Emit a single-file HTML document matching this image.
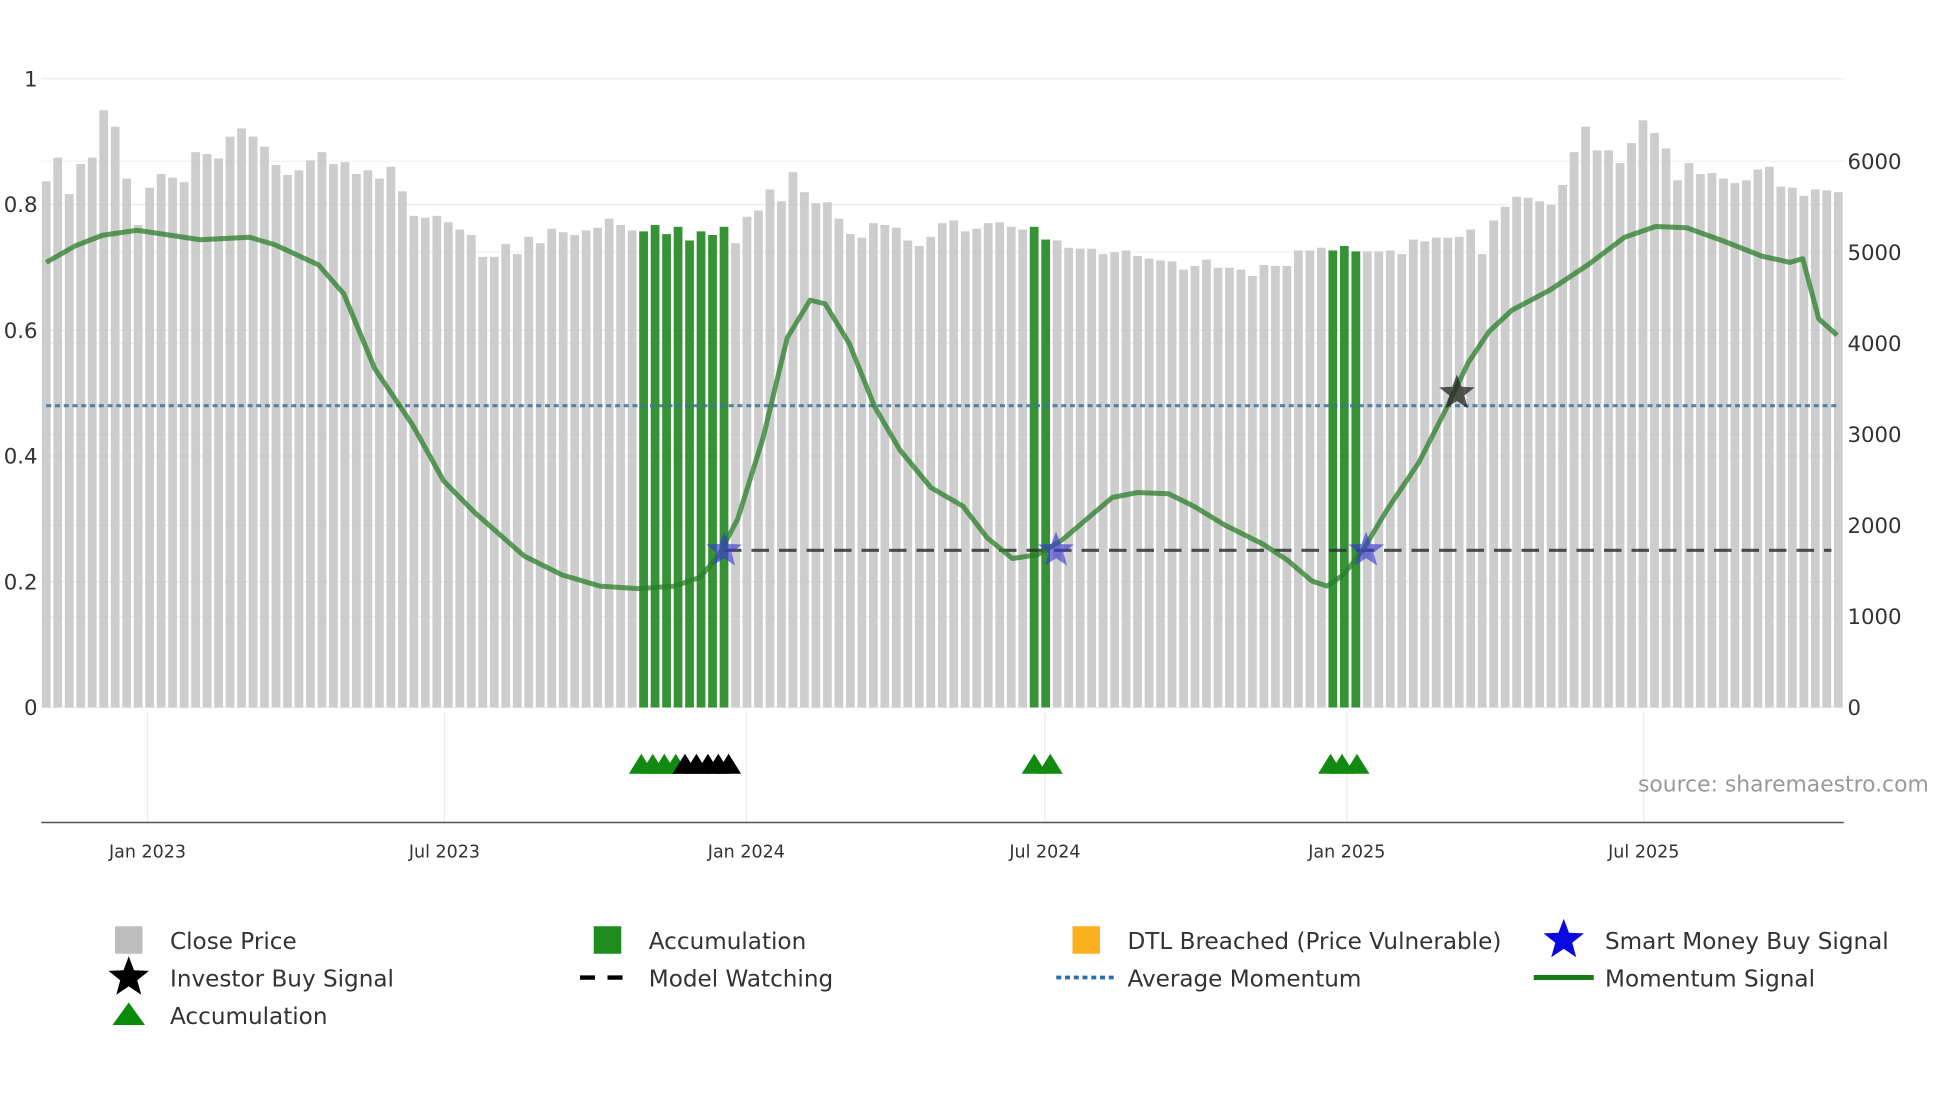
<!DOCTYPE html>
<html><head><meta charset="utf-8"><style>
html,body{margin:0;padding:0;background:#fff;}
svg{display:block;font-family:"DejaVu Sans","Liberation Sans",sans-serif;}
</style></head><body>
<svg id="chart" width="1960" height="1102" viewBox="0 0 1568 881.6" xmlns="http://www.w3.org/2000/svg">
<g id="grid"></g><g id="bars"></g><g id="lines"></g><g id="marks"></g><g id="axes"></g><g id="legend"></g>
</svg>
<script>
const closePrices=[5780,6040,5640,5970,6040,6560,6380,5810,5300,5710,5860,5820,5770,6100,6080,6030,6270,6360,6270,6160,5960,5850,5900,6010,6100,5970,5990,5860,5900,5810,5940,5670,5400,5380,5400,5330,5250,5190,4950,4950,5090,4980,5170,5100,5260,5220,5190,5240,5270,5370,5300,5240,5230,5300,5200,5280,5130,5230,5190,5280,5100,5390,5460,5690,5560,5880,5660,5540,5550,5370,5200,5160,5320,5300,5270,5130,5070,5170,5320,5350,5230,5260,5320,5330,5280,5250,5280,5140,5130,5050,5040,5040,4980,5000,5020,4960,4930,4910,4900,4810,4850,4920,4830,4830,4810,4740,4860,4850,4850,5020,5020,5050,5020,5070,5010,5010,5010,5020,4980,5140,5120,5160,5160,5170,5250,4980,5350,5500,5610,5600,5560,5520,5740,6100,6380,6120,6120,5980,6200,6450,6310,6140,5790,5980,5860,5870,5810,5760,5790,5910,5940,5720,5710,5620,5690,5680,5660];
const accumulationBars=[52,53,54,55,56,57,58,59,86,87,112,113,114];
const momIdx=[0,2.5,4.9,7.9,10.1,13.4,17.7,19.9,23.7,25.9,28.6,31.9,34.6,37.3,41.6,44.9,48.2,51.5,54.7,56.9,58.5,60.2,62.4,64.5,66.5,67.8,69.9,72.1,74.3,77.0,79.8,81.9,84.1,86.3,88.4,90.6,92.8,95.0,97.7,99.9,102.6,105.9,108.0,110.2,111.5,112.9,114.6,116.7,119.5,121.7,123.8,125.6,127.6,130.9,134.2,137.4,140.1,142.8,146.0,149.3,151.8,152.9,154.3,155.9];
const momVal=[0.708,0.734,0.751,0.759,0.753,0.744,0.748,0.736,0.704,0.658,0.539,0.449,0.360,0.310,0.241,0.211,0.193,0.189,0.193,0.207,0.241,0.300,0.429,0.588,0.648,0.642,0.579,0.479,0.410,0.350,0.320,0.270,0.237,0.243,0.266,0.300,0.334,0.342,0.340,0.320,0.290,0.260,0.235,0.201,0.193,0.211,0.250,0.314,0.390,0.469,0.549,0.598,0.632,0.664,0.704,0.748,0.765,0.763,0.742,0.718,0.708,0.714,0.618,0.592];
const avgMomentum=0.48;
const watchLevel=0.25, watchStart=59, watchEnd=155.4;
const smartIdx=[59,87.9,114.9], smartVal=[0.25,0.25,0.25];
const investorIdx=[122.8], investorVal=[0.5];
const triGreen=[51.8,52.8,53.8,54.8,86.0,87.4,111.8,112.8,114.1];
const triBlack=[55.6,56.6,57.6,58.5,59.4];
const leftTicks=[0,0.2,0.4,0.6,0.8,1];
const leftLabels=["0","0.2","0.4","0.6","0.8","1"];
const rightTicks=[0,1000,2000,3000,4000,5000,6000];
const dateTicks=["2023-01-01","2023-07-01","2024-01-01","2024-07-01","2025-01-01","2025-07-01"];
const dateLabels=["Jan 2023","Jul 2023","Jan 2024","Jul 2024","Jan 2025","Jul 2025"];

const NS="http://www.w3.org/2000/svg";
const x0=37, step=9.19;
const xi=i=>x0+i*step;
const day0=Date.UTC(2023,0,1);
const xd=s=>{const p=s.split('-');return 118+(Date.UTC(+p[0],+p[1]-1,+p[2])-day0)/86400000*1.3125;};
const yL=v=>566-v*503;
const yR=v=>566-v*437/6000;
function mk(tag,attrs,parent,text){const e=document.createElementNS(NS,tag);for(const k in attrs)e.setAttribute(k,attrs[k]);if(text!==undefined)e.textContent=text;document.getElementById(parent).appendChild(e);return e;}

leftTicks.forEach(v=>{const l=mk('line',{x1:33,x2:1475,y1:yL(v),y2:yL(v),stroke:'#ececec','stroke-width':1},'grid');

});
rightTicks.forEach(v=>{const l=mk('line',{x1:33,x2:1475,y1:yR(v),y2:yR(v),stroke:'#f2f2f2','stroke-width':1},'grid');

});
dateTicks.forEach(d=>{const l=mk('line',{x1:xd(d),x2:xd(d),y1:570,y2:658,stroke:'#ececec','stroke-width':1},'grid');

});

closePrices.forEach((v,i)=>{const acc=accumulationBars.includes(i);
const r=mk('rect',{x:xi(i)-3.5,y:yR(v),width:7,height:566-yR(v),fill:acc?'#2a8c2a':'#c8c8c8',opacity:acc?0.95:0.9},'bars');

});

const am=mk('line',{x1:37,x2:1472,y1:yL(avgMomentum),y2:yL(avgMomentum),stroke:'#3f73a0','stroke-width':2.5,'stroke-dasharray':'4 3',opacity:0.85},'lines');


const mw=mk('line',{x1:xi(watchStart),x2:xi(watchEnd),y1:yL(watchLevel),y2:yL(watchLevel),stroke:'#333','stroke-width':2.5,'stroke-dasharray':'14 8',opacity:0.85},'lines');


let d='';momIdx.forEach((k,i)=>{d+=(i?'L':'M')+xi(k).toFixed(1)+','+yL(momVal[i]).toFixed(1);});
const ml=mk('path',{d:d,fill:'none',stroke:'#2a7d2a','stroke-width':4,opacity:0.75,'stroke-linejoin':'round'},'lines');



function star(cx,cy,R){let p=[];for(let k=0;k<10;k++){const r=k%2?R*0.42:R;const a=-Math.PI/2+k*Math.PI/5;p.push((cx+r*Math.cos(a)).toFixed(1)+','+(cy+r*Math.sin(a)).toFixed(1));}return p.join(' ');}
smartIdx.forEach((k,i)=>{const s=mk('polygon',{points:star(xi(k),yL(smartVal[i]),15),fill:'#3a3ad0',opacity:0.65},'marks');

});
investorIdx.forEach((k,i)=>{const s=mk('polygon',{points:star(xi(k),yL(investorVal[i]),15),fill:'#222',opacity:0.75},'marks');

});
function tri(cx,cy,c,name){const t=mk('polygon',{points:`${cx-10},${cy+8} ${cx+10},${cy+8} ${cx},${cy-8}`,fill:c},'marks');

}
triGreen.forEach(k=>tri(xi(k),611,'#118a11','accumulation-triangle'));
triBlack.forEach(k=>tri(xi(k),611,'#000','investor-triangle'));

const ax=mk('line',{x1:33,x2:1475,y1:658,y2:658,stroke:'#555','stroke-width':1.2},'axes');


leftTicks.forEach((v,i)=>{const t=mk('text',{x:30,y:yL(v)+6,'text-anchor':'end','font-size':17,fill:'#333'},'axes',leftLabels[i]);

});
rightTicks.forEach(v=>{const t=mk('text',{x:1478,y:yR(v)+6,'font-size':17,fill:'#333'},'axes',String(v));

});
dateTicks.forEach((dd,i)=>{const t=mk('text',{x:xd(dd),y:686,'text-anchor':'middle','font-size':14,fill:'#333'},'axes',dateLabels[i]);

});
const src=mk('text',{x:1543,y:633,'text-anchor':'end','font-size':17.5,fill:'#999'},'axes','source: sharemaestro.com');



const L=[
 ['sq','#bdbdbd','Close Price',103,752],['sq','#1e8c1e','Accumulation',486,752],['sq','#fbb020','DTL Breached (Price Vulnerable)',869,752],['star','#0a0ae0','Smart Money Buy Signal',1251,752],
 ['star','#000','Investor Buy Signal',103,782],['dash','#000','Model Watching',486,782],['dot','#2f6fa8','Average Momentum',869,782],['line','#197a19','Momentum Signal',1251,782],
 ['tri','#0a8a0a','Accumulation',103,812]];
L.forEach(e=>{const [k,c,txt,x,y]=e;let ic;
 if(k==='sq')ic=mk('rect',{x:x-11,y:y-11,width:22,height:22,fill:c},'legend');
 else if(k==='star')ic=mk('polygon',{points:star(x,y,17),fill:c},'legend');
 else if(k==='dash')ic=mk('line',{x1:x-22,x2:x+22,y1:y,y2:y,stroke:c,'stroke-width':3.5,'stroke-dasharray':'12 10'},'legend');
 else if(k==='dot')ic=mk('line',{x1:x-24,x2:x+22,y1:y,y2:y,stroke:c,'stroke-width':3,'stroke-dasharray':'4 3'},'legend');
 else if(k==='line')ic=mk('line',{x1:x-24,x2:x+24,y1:y,y2:y,stroke:c,'stroke-width':4},'legend');
 else ic=mk('polygon',{points:`${x-13},${y+8} ${x+13},${y+8} ${x},${y-10}`,fill:c},'legend');
 
 
 const t=mk('text',{x:x+33,y:y+7,'font-size':18.5,fill:'#333'},'legend',txt);
 
 });
</script>
</body></html>
